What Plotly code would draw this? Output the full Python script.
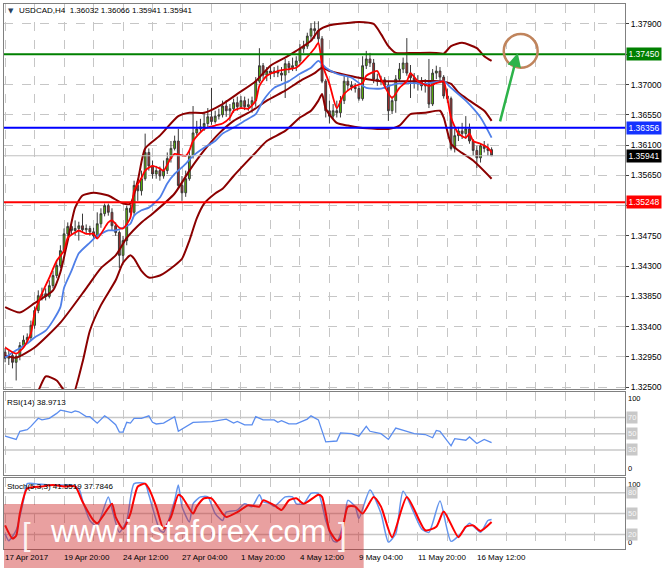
"""
Graphique USDCAD H4 facon MetaTrader : bougies, bandes, moyennes, RSI et stochastique.
"""

import plotly.graph_objects as go

# bougies H4, indice 0 = 17 Apr 2017 00:00
bar_open = [1.3302, 1.3293, 1.3297, 1.3287, 1.3296, 1.3312, 1.3320, 1.3324, 1.3342, 1.3364,
            1.3386, 1.3389, 1.3385, 1.3401, 1.3416, 1.3431, 1.3453, 1.3478, 1.3489, 1.3483,
            1.3486, 1.3490, 1.3484, 1.3486, 1.3481, 1.3475, 1.3493, 1.3508, 1.3520, 1.3510,
            1.3490, 1.3480, 1.3446, 1.3468, 1.3516, 1.3510, 1.3550, 1.3542, 1.3560, 1.3599,
            1.3579, 1.3567, 1.3572, 1.3564, 1.3572, 1.3590, 1.3605, 1.3616, 1.3550, 1.3539,
            1.3560, 1.3594, 1.3628, 1.3634, 1.3637, 1.3642, 1.3652, 1.3645, 1.3653, 1.3655,
            1.3668, 1.3661, 1.3664, 1.3673, 1.3667, 1.3676, 1.3667, 1.3670, 1.3676, 1.3705,
            1.3728, 1.3714, 1.3720, 1.3717, 1.3720, 1.3717, 1.3714, 1.3731, 1.3725, 1.3728,
            1.3735, 1.3753, 1.3757, 1.3772, 1.3783, 1.3780, 1.3768, 1.3705, 1.3661, 1.3653,
            1.3661, 1.3658, 1.3676, 1.3705, 1.3699, 1.3696, 1.3694, 1.3679, 1.3728, 1.3738,
            1.3732, 1.3708, 1.3705, 1.3707, 1.3699, 1.3661, 1.3676, 1.3708, 1.3723, 1.3732,
            1.3717, 1.3710, 1.3702, 1.3705, 1.3698, 1.3702, 1.3671, 1.3717, 1.3720, 1.3711,
            1.3683, 1.3679, 1.3605, 1.3624, 1.3631, 1.3627, 1.3634, 1.3616, 1.3602, 1.3591,
            1.3609, 1.3605, 1.36032]
bar_high = [1.3308, 1.3305, 1.3302, 1.3299, 1.3317, 1.3327, 1.3330, 1.3349, 1.3370, 1.3394,
            1.3398, 1.3397, 1.3409, 1.3423, 1.3438, 1.3461, 1.3486, 1.3495, 1.3492, 1.3498,
            1.3496, 1.3508, 1.3492, 1.3490, 1.3487, 1.3510, 1.3516, 1.3523, 1.3523, 1.3516,
            1.3495, 1.3483, 1.3475, 1.3520, 1.3521, 1.3557, 1.3560, 1.3572, 1.3627, 1.3605,
            1.3587, 1.3579, 1.3578, 1.3587, 1.3599, 1.3616, 1.3624, 1.3634, 1.3564, 1.3572,
            1.3602, 1.3668, 1.3646, 1.3649, 1.3658, 1.3665, 1.3695, 1.3661, 1.3664, 1.3676,
            1.3677, 1.3671, 1.3679, 1.3682, 1.3683, 1.3682, 1.3679, 1.3682, 1.3711, 1.3754,
            1.3732, 1.3726, 1.3729, 1.3726, 1.3728, 1.3726, 1.3738, 1.3735, 1.3740, 1.3742,
            1.3760, 1.3765, 1.3777, 1.3791, 1.3794, 1.3794, 1.3772, 1.3708, 1.3676, 1.3671,
            1.3676, 1.3683, 1.3713, 1.3711, 1.3705, 1.3702, 1.3698, 1.3742, 1.3750, 1.3747,
            1.3738, 1.3716, 1.3713, 1.3711, 1.3705, 1.3683, 1.3714, 1.3732, 1.3740, 1.3769,
            1.3729, 1.3717, 1.3714, 1.3711, 1.3708, 1.3738, 1.3723, 1.3728, 1.3726, 1.3714,
            1.3694, 1.3682, 1.3634, 1.3637, 1.3643, 1.3653, 1.3642, 1.3619, 1.3609, 1.3612,
            1.3616, 1.3612, 1.36066]
bar_low = [1.3287, 1.3283, 1.3278, 1.3260, 1.3290, 1.3308, 1.3315, 1.3320, 1.3337, 1.3360,
           1.3379, 1.3379, 1.3382, 1.3397, 1.3412, 1.3427, 1.3449, 1.3474, 1.3477, 1.3475,
           1.3468, 1.3480, 1.3478, 1.3475, 1.3472, 1.3472, 1.3487, 1.3504, 1.3505, 1.3483,
           1.3475, 1.3427, 1.3435, 1.3461, 1.3501, 1.3505, 1.3527, 1.3535, 1.3557, 1.3572,
           1.3560, 1.3560, 1.3557, 1.3560, 1.3567, 1.3584, 1.3602, 1.3545, 1.3527, 1.3533,
           1.3557, 1.3590, 1.3624, 1.3628, 1.3631, 1.3637, 1.3640, 1.3642, 1.3648, 1.3651,
           1.3652, 1.3646, 1.3658, 1.3661, 1.3664, 1.3662, 1.3661, 1.3658, 1.3667, 1.3702,
           1.3708, 1.3705, 1.3708, 1.3711, 1.3711, 1.3705, 1.3680, 1.3717, 1.3720, 1.3720,
           1.3732, 1.3747, 1.3753, 1.3765, 1.3768, 1.3760, 1.3702, 1.3651, 1.3642, 1.3649,
           1.3651, 1.3651, 1.3671, 1.3691, 1.3691, 1.3688, 1.3676, 1.3676, 1.3723, 1.3726,
           1.3702, 1.3698, 1.3699, 1.3694, 1.3646, 1.3656, 1.3658, 1.3705, 1.3717, 1.3713,
           1.3680, 1.3694, 1.3691, 1.3691, 1.3688, 1.3665, 1.3668, 1.3708, 1.3702, 1.3679,
           1.3673, 1.3602, 1.3599, 1.3616, 1.3619, 1.3619, 1.3612, 1.3594, 1.3576, 1.3584,
           1.3599, 1.3594, 1.35941]
bar_close = [1.3293, 1.3297, 1.3287, 1.3296, 1.3312, 1.3320, 1.3324, 1.3342, 1.3364, 1.3386,
             1.3389, 1.3385, 1.3401, 1.3416, 1.3431, 1.3453, 1.3478, 1.3489, 1.3483, 1.3486,
             1.3490, 1.3484, 1.3486, 1.3481, 1.3475, 1.3493, 1.3508, 1.3520, 1.3510, 1.3490,
             1.3480, 1.3446, 1.3468, 1.3516, 1.3510, 1.3550, 1.3542, 1.3560, 1.3599, 1.3579,
             1.3567, 1.3572, 1.3564, 1.3572, 1.3590, 1.3605, 1.3616, 1.3550, 1.3539, 1.3560,
             1.3594, 1.3628, 1.3634, 1.3637, 1.3642, 1.3652, 1.3645, 1.3653, 1.3655, 1.3668,
             1.3661, 1.3664, 1.3673, 1.3667, 1.3676, 1.3667, 1.3670, 1.3676, 1.3705, 1.3728,
             1.3714, 1.3720, 1.3717, 1.3720, 1.3717, 1.3714, 1.3731, 1.3725, 1.3728, 1.3735,
             1.3753, 1.3757, 1.3772, 1.3783, 1.3780, 1.3768, 1.3705, 1.3661, 1.3653, 1.3661,
             1.3658, 1.3676, 1.3705, 1.3699, 1.3696, 1.3694, 1.3679, 1.3728, 1.3738, 1.3732,
             1.3708, 1.3705, 1.3707, 1.3699, 1.3661, 1.3676, 1.3708, 1.3723, 1.3732, 1.3717,
             1.3710, 1.3702, 1.3705, 1.3698, 1.3702, 1.3671, 1.3717, 1.3720, 1.3711, 1.3683,
             1.3679, 1.3605, 1.3624, 1.3631, 1.3627, 1.3634, 1.3616, 1.3602, 1.3591, 1.3609,
             1.3605, 1.3602, 1.35941]

# moyennes mobiles et bandes (indice de bougie, prix)
fast_ma_bar = [0, 3, 5, 7, 8, 10, 12, 14, 16, 17, 19, 20, 22, 24, 25, 28, 29, 31, 32, 34,
               35, 37, 38, 40, 42, 43, 45, 46, 49, 50, 51, 54, 57, 59, 61, 62, 64, 66, 68, 69,
               71, 74, 77, 79, 81, 84, 85, 86, 88, 90, 92, 94, 95, 97, 98, 101, 102, 105, 107, 109,
               110, 112, 115, 117, 119, 120, 121, 123, 125, 126, 127, 129, 131, 132]
fast_ma = [1.3309, 1.3300, 1.3309, 1.3330, 1.3360, 1.3389, 1.3413, 1.3438, 1.3453, 1.3472,
           1.3480, 1.3483, 1.3478, 1.3478, 1.3471, 1.3495, 1.3498, 1.3487, 1.3486, 1.3502,
           1.3542, 1.3561, 1.3572, 1.3579, 1.3575, 1.3572, 1.3591, 1.3597, 1.3594, 1.3602,
           1.3616, 1.3634, 1.3639, 1.3642, 1.3651, 1.3661, 1.3665, 1.3664, 1.3676, 1.3698,
           1.3713, 1.3720, 1.3723, 1.3725, 1.3735, 1.3754, 1.3762, 1.3731, 1.3701, 1.3665,
           1.3686, 1.3695, 1.3698, 1.3702, 1.3713, 1.3720, 1.3708, 1.3680, 1.3695, 1.3705,
           1.3717, 1.3705, 1.3698, 1.3702, 1.3705, 1.3680, 1.3651, 1.3627, 1.3621, 1.3627,
           1.3616, 1.3612, 1.3606, 1.3599]
slow_ma_bar = [0, 3, 6, 8, 11, 13, 15, 16, 18, 20, 23, 25, 28, 30, 32, 34, 35, 37, 39, 42,
               44, 46, 49, 51, 54, 57, 59, 62, 65, 68, 70, 73, 77, 80, 83, 85, 87, 90, 94, 98,
               102, 106, 111, 114, 119, 121, 125, 129, 132]
slow_ma = [1.3294, 1.3305, 1.3315, 1.3324, 1.3334, 1.3349, 1.3369, 1.3398, 1.3423, 1.3449,
           1.3465, 1.3475, 1.3483, 1.3483, 1.3487, 1.3493, 1.3505, 1.3513, 1.3517, 1.3532,
           1.3553, 1.3567, 1.3582, 1.3594, 1.3606, 1.3616, 1.3627, 1.3636, 1.3646, 1.3656,
           1.3676, 1.3695, 1.3705, 1.3716, 1.3725, 1.3735, 1.3725, 1.3716, 1.3710, 1.3695,
           1.3694, 1.3701, 1.3702, 1.3701, 1.3705, 1.3695, 1.3676, 1.3651, 1.3621]
band_up_bar = [0, 4, 8, 13, 15, 17, 19, 21, 24, 28, 32, 34, 36, 38, 42, 47, 50, 54, 59, 63,
               68, 72, 76, 79, 83, 85, 88, 92, 96, 100, 102, 104, 106, 111, 117, 119, 121, 124,
               128, 130, 132]
band_up = [1.3369, 1.3361, 1.3375, 1.3394, 1.3421, 1.3468, 1.3517, 1.3535, 1.3539, 1.3535,
           1.3523, 1.3523, 1.3557, 1.3605, 1.3624, 1.3653, 1.3658, 1.3658, 1.3671, 1.3686,
           1.3705, 1.3728, 1.3740, 1.3750, 1.3765, 1.3780, 1.3788, 1.3791, 1.3793, 1.3790,
           1.3775, 1.3757, 1.3747, 1.3747, 1.3747, 1.3746, 1.3757, 1.3762, 1.3754, 1.3742,
           1.3735]
band_mid_bar = [0, 3, 8, 15, 22, 26, 30, 33, 37, 40, 46, 50, 54, 58, 62, 67, 71, 76, 80, 84,
                86, 88, 91, 96, 102, 107, 112, 118, 121, 123, 126, 130, 132]
band_mid = [1.3297, 1.3294, 1.3309, 1.3346, 1.3397, 1.3427, 1.3446, 1.3472, 1.3495, 1.3508,
            1.3538, 1.3572, 1.3602, 1.3627, 1.3646, 1.3661, 1.3676, 1.3691, 1.3705, 1.3717,
            1.3725, 1.3720, 1.3716, 1.3710, 1.3705, 1.3705, 1.3705, 1.3705, 1.3701, 1.3688,
            1.3676, 1.3661, 1.3646]
band_low_bar = [0, 5, 9, 11, 14, 16, 18, 21, 23, 26, 30, 32, 34, 35, 37, 39, 42, 46, 48, 50,
                52, 54, 57, 59, 62, 68, 71, 76, 80, 83, 85, 86, 87, 90, 93, 96, 101, 104, 107,
                110, 114, 118, 119, 121, 123, 127, 132]
band_low = [1.3195, 1.3223, 1.3245, 1.3266, 1.3260, 1.3245, 1.3233, 1.3287, 1.3334, 1.3372,
            1.3409, 1.3435, 1.3446, 1.3441, 1.3423, 1.3413, 1.3416, 1.3431, 1.3441, 1.3468,
            1.3501, 1.3523, 1.3538, 1.3545, 1.3564, 1.3599, 1.3616, 1.3631, 1.3651, 1.3661,
            1.3676, 1.3686, 1.3664, 1.3643, 1.3639, 1.3636, 1.3634, 1.3634, 1.3639, 1.3656,
            1.3658, 1.3661, 1.3651, 1.3612, 1.3602, 1.3587, 1.3560]

# RSI(14)
rsi_bar = [0, 3, 4, 6, 7, 9, 10, 12, 14, 15, 16, 18, 19, 20, 22, 23, 24, 25, 27, 28,
           30, 31, 32, 33, 34, 35, 37, 39, 40, 41, 43, 45, 46, 47, 49, 51, 56, 60, 62, 63,
           65, 67, 68, 70, 73, 74, 75, 77, 79, 82, 83, 85, 87, 90, 91, 94, 96, 98, 99, 102,
           104, 106, 109, 111, 114, 116, 117, 118, 121, 122, 125, 126, 128, 130, 132]
rsi_val = [47, 43, 53, 55, 59, 69, 67, 69, 75, 79, 78, 76, 78, 77, 71, 71, 67, 63, 72, 69,
           61, 52, 52, 64, 63, 69, 69, 72, 64, 62, 63, 69, 71, 53, 59, 64, 65, 68, 63, 65,
           61, 61, 71, 67, 67, 64, 66, 62, 62, 68, 72, 67, 40, 41, 51, 50, 47, 59, 53, 50,
           43, 57, 53, 50, 49, 45, 54, 53, 35, 44, 42, 46, 38, 43, 38.97]

# Stochastique (5,3,3) : ligne principale et signal
stoch_k_bar = [0, 1, 3, 5, 6, 8, 12, 16, 18, 20, 21, 23, 25, 26, 28, 29, 31, 33, 35, 38,
               39, 42, 43, 46, 47, 48, 50, 51, 53, 55, 57, 59, 60, 63, 65, 67, 69, 70, 72, 73,
               76, 78, 79, 81, 83, 85, 87, 89, 90, 92, 93, 95, 96, 99, 102, 104, 106, 108, 113, 115,
               118, 121, 124, 126, 129, 131, 132]
stoch_k = [21, 11, 26, 69, 93, 93, 91, 91, 91, 86, 69, 40, 31, 45, 74, 57, 23, 40, 93, 93,
           77, 26, 23, 69, 91, 60, 38, 64, 74, 74, 50, 40, 52, 55, 64, 60, 77, 67, 64, 60,
           74, 74, 64, 64, 79, 79, 40, 11, 9, 40, 69, 60, 43, 84, 50, 9, 21, 82, 28, 23,
           68, 10, 23, 36, 23, 40, 41.55]
stoch_d_bar = [0, 2, 3, 4, 6, 10, 13, 16, 19, 21, 24, 25, 27, 29, 30, 32, 34, 36, 38, 39,
               41, 43, 45, 47, 48, 51, 52, 54, 56, 59, 60, 63, 66, 69, 70, 73, 75, 77, 79, 81,
               85, 86, 88, 90, 91, 93, 95, 97, 100, 102, 105, 109, 114, 117, 119, 123, 125, 127, 129, 132]
stoch_d = [33, 14, 18, 50, 86, 89, 91, 89, 89, 67, 40, 36, 50, 64, 45, 28, 50, 89, 93, 86,
           60, 28, 45, 77, 74, 50, 60, 72, 72, 50, 45, 52, 62, 60, 69, 62, 55, 69, 72, 64,
           77, 74, 26, 11, 14, 60, 60, 50, 74, 60, 16, 74, 26, 31, 53, 16, 31, 33, 25, 37.78]

# axe du temps et axe des prix
date_bars = [0, 16, 32, 48, 64, 80, 96, 112, 128]
date_labels = ["17 Apr 2017", "19 Apr 20:00", "24 Apr 12:00", "27 Apr 04:00", "1 May 20:00",
               "4 May 12:00", "9 May 04:00", "11 May 20:00", "16 May 12:00"]
price_ticks = [1.3250, 1.3295, 1.3340, 1.3385, 1.3430, 1.3475, 1.3520, 1.3565, 1.3610,
               1.3655, 1.3700, 1.3745, 1.3790]
level_green = 1.37450
level_blue = 1.36356
level_red = 1.35248
last_price = 1.35941
rsi_levels = [70, 50, 30]
stoch_levels = [80, 50, 20]

W, H = 665, 568
LEFT, RIGHT, TOP, BOTTOM = 3, 37, 3, 19
PLOT_W = W - LEFT - RIGHT
PLOT_H = H - TOP - BOTTOM
FONT = "Liberation Sans"
GRID = "#c6c6c6"
FRAME = "#808080"


def paper_x(px):
    """Position horizontale en pixels -> coordonnee 'paper'."""
    return (px - LEFT) / PLOT_W


def paper_y(px):
    """Position verticale en pixels -> coordonnee 'paper'."""
    return (H - BOTTOM - px) / PLOT_H


def ligne(x, y, couleur, largeur, xa, ya, forme="spline"):
    return go.Scatter(x=x, y=y, mode="lines", xaxis=xa, yaxis=ya, hoverinfo="skip",
                      showlegend=False, line=dict(color=couleur, width=largeur, shape=forme,
                                                  smoothing=0.6))


def boite(texte, y, yref, fond, couleur="white", largeur=None, anchor="middle", taille=8.5):
    d = dict(x=paper_x(629), xref="paper", xanchor="left", y=y, yref=yref, yanchor=anchor,
             text=texte, showarrow=False, bgcolor=fond, borderpad=1,
             font=dict(family=FONT, size=taille, color=couleur))
    if largeur:
        d["width"] = largeur
    return d


def main():
    fig = go.Figure()

    bars = list(range(len(bar_close)))
    fig.add_trace(go.Candlestick(
        x=bars, open=bar_open, high=bar_high, low=bar_low, close=bar_close,
        increasing=dict(fillcolor="#5cc400", line=dict(color="#3a3a3a", width=1)),
        decreasing=dict(fillcolor="#b0282a", line=dict(color="#3a3a3a", width=1)),
        whiskerwidth=0, showlegend=False, hoverinfo="skip", xaxis="x", yaxis="y"))

    fig.add_trace(ligne(band_up_bar, band_up, "#8b0000", 2, "x", "y"))
    fig.add_trace(ligne(band_mid_bar, band_mid, "#8b0000", 2, "x", "y"))
    fig.add_trace(ligne(band_low_bar, band_low, "#8b0000", 2, "x", "y"))
    fig.add_trace(ligne(slow_ma_bar, slow_ma, "#4f7fe8", 1.8, "x", "y"))
    fig.add_trace(ligne(fast_ma_bar, fast_ma, "#ff0000", 1.8, "x", "y"))

    fig.add_trace(ligne(rsi_bar, rsi_val, "#5b8def", 1.3, "x2", "y2", forme="linear"))
    fig.add_trace(ligne(stoch_k_bar, stoch_k, "#6495ed", 1.5, "x3", "y3"))
    fig.add_trace(ligne(stoch_d_bar, stoch_d, "#ff0000", 2, "x3", "y3"))

    # les etiquettes cachees par les boites de niveau ne sont pas ecrites
    texte_prix = []
    for v in price_ticks:
        t = "%.5f" % v
        texte_prix.append("" if t in ("1.37450", "1.35200") else t)

    xcommon = dict(range=[-0.3, 168.2], tickvals=list(range(0, 169, 8)), showticklabels=False,
                   ticks="", showgrid=True, gridcolor=GRID, griddash="dash", gridwidth=1,
                   showline=True, mirror=True, linecolor=FRAME, linewidth=1, zeroline=False)
    fig.update_layout(
        width=W, height=H, margin=dict(l=LEFT, r=RIGHT, t=TOP, b=BOTTOM),
        paper_bgcolor="white", plot_bgcolor="white", showlegend=False,
        xaxis=dict(xcommon, anchor="y", rangeslider=dict(visible=False)),
        xaxis2=dict(xcommon, anchor="y2", matches="x"),
        xaxis3=dict(xcommon, anchor="y3", matches="x"),
        yaxis=dict(domain=[paper_y(389), 1], range=[1.32469, 1.38197], side="right",
                   tickvals=price_ticks, ticktext=texte_prix,
                   tickfont=dict(family=FONT, size=8.5, color="black"), ticks="outside",
                   ticklen=3, tickcolor="#404040", showgrid=True, gridcolor=GRID,
                   griddash="dash", showline=True, mirror=True, linecolor=FRAME,
                   zeroline=False),
        yaxis2=dict(domain=[paper_y(475), paper_y(392)], range=[-1, 101], showticklabels=False,
                    showgrid=False, showline=True, mirror=True, linecolor=FRAME, zeroline=False),
        yaxis3=dict(domain=[0, paper_y(478)], range=[-1, 101], showticklabels=False,
                    showgrid=False, showline=True, mirror=True, linecolor=FRAME, zeroline=False),
    )

    shapes = []
    for prix, couleur, larg in [(last_price, "#c0c0c0", 1.2), (level_green, "#008000", 2),
                                (level_blue, "#0000ff", 2), (level_red, "#ff0000", 2)]:
        shapes.append(dict(type="line", xref="x domain", x0=0, x1=1, yref="y", y0=prix, y1=prix,
                           line=dict(color=couleur, width=larg)))
    for v in rsi_levels:
        shapes.append(dict(type="line", xref="x2 domain", x0=0, x1=1, yref="y2", y0=v, y1=v,
                           line=dict(color="#c8c8c8", width=1.5), layer="below"))
    for v in stoch_levels:
        shapes.append(dict(type="line", xref="x3 domain", x0=0, x1=1, yref="y3", y0=v, y1=v,
                           line=dict(color="#c8c8c8", width=1.5), layer="below"))
    # cercle cible
    shapes.append(dict(type="circle", xref="x", yref="y", x0=135.3, x1=144.5, y0=1.3725,
                       y1=1.3775, line=dict(color="#c0845c", width=2.5)))
    # bandeau du filigrane
    shapes.append(dict(type="rect", xref="paper", yref="paper", x0=0, x1=paper_x(365),
                       y0=paper_y(568), y1=paper_y(504), fillcolor="rgba(205,35,35,0.43)",
                       line=dict(width=0), layer="above"))

    petit = dict(family=FONT, size=8, color="black")
    transparent = "rgba(0,0,0,0)"
    ann = [
        dict(x=paper_x(5), y=paper_y(10), xref="paper", yref="paper", xanchor="left",
             yanchor="middle", text="▼", showarrow=False, font=dict(family="DejaVu Sans", size=7)),
        dict(x=paper_x(16), y=paper_y(10), xref="paper", yref="paper", xanchor="left",
             yanchor="middle", text="USDCAD,H4  1.36032 1.36066 1.35941 1.35941",
             showarrow=False, font=dict(family=FONT, size=8, color="black")),
        dict(x=paper_x(4), y=paper_y(402), xref="paper", yref="paper", xanchor="left",
             yanchor="middle", text="RSI(14) 38.9713", showarrow=False, font=petit),
        dict(x=paper_x(4), y=paper_y(486), xref="paper", yref="paper", xanchor="left",
             yanchor="middle", text="Stoch(5,3,3) 41.5519 37.7846", showarrow=False, font=petit),
        boite("%.5f" % level_green, level_green, "y", "#008000", largeur=32),
        boite("%.5f" % level_blue, level_blue, "y", "#1432ff", largeur=32),
        boite("%.5f" % level_red, level_red, "y", "#ff0000", largeur=32),
        boite("%.5f" % last_price, last_price, "y", "#000000", largeur=32),
        boite("100", 101, "y2", transparent, couleur="black", anchor="top", taille=7.5),
        boite("0", -1, "y2", transparent, couleur="black", anchor="bottom", taille=7.5),
        boite("100", 101, "y3", transparent, couleur="black", anchor="top", taille=7.5),
        boite("0", -1, "y3", transparent, couleur="black", anchor="bottom", taille=7.5),
    ]
    for v in rsi_levels:
        ann.append(boite(str(v), v, "y2", "#c8c8c8", couleur="#f8f8f8", taille=7.5))
    for v in stoch_levels:
        ann.append(boite(str(v), v, "y3", "#c8c8c8", couleur="#f8f8f8", taille=7.5))
    for b, lab in zip(date_bars, date_labels):
        ann.append(dict(x=b, xref="x3", y=paper_y(558), yref="paper", xanchor="left",
                        yanchor="middle", xshift=-2, text=lab, showarrow=False, font=petit))
    # fleche verte
    ann.append(dict(x=139.1, y=1.3747, xref="x", yref="y", ax=134.2, ay=1.3643, axref="x",
                    ayref="y", text="", showarrow=True, arrowhead=2, arrowsize=1.1,
                    arrowwidth=2.5, arrowcolor="#2db34a"))
    # filigrane
    ann.append(dict(x=paper_x(189), y=paper_y(531), xref="paper", yref="paper",
                    xanchor="center", yanchor="middle", text="www.instaforex.com",
                    showarrow=False, font=dict(family=FONT, size=31, color="white")))
    crochet = dict(family=FONT, size=31, color="rgba(255,255,255,0.9)")
    ann.append(dict(x=paper_x(26), y=paper_y(534), xref="paper", yref="paper",
                    xanchor="center", yanchor="middle", text="[", showarrow=False, font=crochet))
    ann.append(dict(x=paper_x(344), y=paper_y(534), xref="paper", yref="paper",
                    xanchor="center", yanchor="middle", text="]", showarrow=False, font=crochet))

    fig.update_layout(shapes=shapes, annotations=ann)
    # la page ne doit pas ajouter de marge autour du graphique
    fig.write_html("out.html", config={"displayModeBar": False},
                   post_script="document.body.style.margin='0px';")


if __name__ == "__main__":
    main()
